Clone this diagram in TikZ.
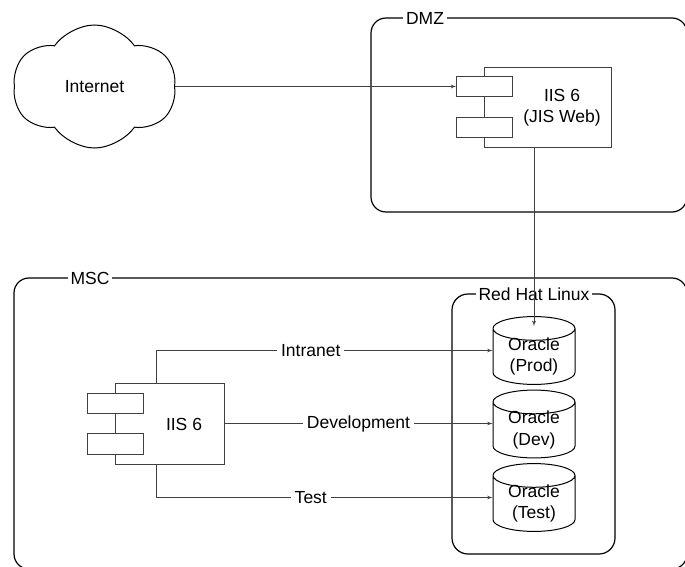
\documentclass[tikz,border=0pt]{standalone}
\usepackage{fontspec}
\setmainfont{Liberation Sans}
\usetikzlibrary{arrows,shapes,positioning}

\begin{document}
\begin{tikzpicture}[x=1pt,y=-1pt,>=latex',
  every node/.style={font=\fontsize{17.5}{21.5}\selectfont},
  zone/.style={draw,line width=1.2pt,rounded corners=15pt,inner sep=0pt},
  zone label/.style={fill=white,inner xsep=3pt,inner ysep=1pt},
  comp/.style={draw=black!75,line width=0.8pt,fill=white,inner sep=0pt},
  port/.style={comp,minimum width=56pt,minimum height=20.5pt},
  db/.style={cylinder,shape border rotate=90,aspect=0.46,draw,line width=1pt,
    minimum width=82pt,minimum height=52pt,align=center,inner xsep=0pt,inner ysep=-3pt,
    anchor=shape center},
  link/.style={draw=black!75,line width=0.8pt},
  link label/.style={fill=white,inner xsep=4pt,inner ysep=0pt}]

  \useasboundingbox (0,0) rectangle (685,567);

  % zones
  \node[zone,minimum width=316pt,minimum height=194pt] (dmz) at (529,115) {};
  \node[zone,minimum width=673pt,minimum height=291pt] (msc) at (350.5,423.5) {};
  \node[zone,rounded corners=16pt,minimum width=163pt,minimum height=260pt] (rhl) at (533.5,424) {};
  \node[zone label] (dmz label) at (425,18) {DMZ};
  \node[zone label] (msc label) at (90,278) {MSC};
  \node[zone label] (rhl label) at (534,294) {Red Hat Linux};

  \node[cloud,cloud puffs=6,cloud puff arc=110,aspect=1.33,draw,line width=1pt,
    minimum width=163pt,minimum height=123pt] (internet) at (94.5,86.5) {Internet};

  % web server in the DMZ
  \node[comp,minimum width=127pt,minimum height=80pt] (web) at (547.5,107) {};
  \node[port] (web port1) at (484.5,86.5) {};
  \node[port] (web port2) at (484.5,127.5) {};
  \node[align=center] (web text) at (562,107.5) {IIS 6\\(JIS Web)};

  % internal server
  \node[comp,minimum width=109pt,minimum height=81pt] (iis) at (169.5,423.5) {};
  \node[port] (iis port1) at (115,403.5) {};
  \node[port] (iis port2) at (115,444) {};
  \node (iis text) at (184,424) {IIS 6};

  % databases
  \node[db] (prod) at (534,350.5) {Oracle\\(Prod)};
  \node[db] (dev) at (534,424) {Oracle\\(Dev)};
  \node[db] (test) at (534,497.5) {Oracle\\(Test)};

  \draw[link,->] (internet) -- (web port1);
  \draw[link,->] ([xshift=-13.5pt]web.south) -- ([yshift=-10pt]prod.top);
  \draw[link,->] ([xshift=-13.5pt]iis.north) |- node[link label,pos=.73] {Intranet} (prod.shape center -| prod.west);
  \draw[link,->] (iis.east) -- node[link label] {Development} (iis.east -| dev.west);
  \draw[link,->] ([xshift=-13.5pt]iis.south) |- node[link label,pos=.73] {Test} (test.shape center -| test.west);
\end{tikzpicture}
\end{document}
